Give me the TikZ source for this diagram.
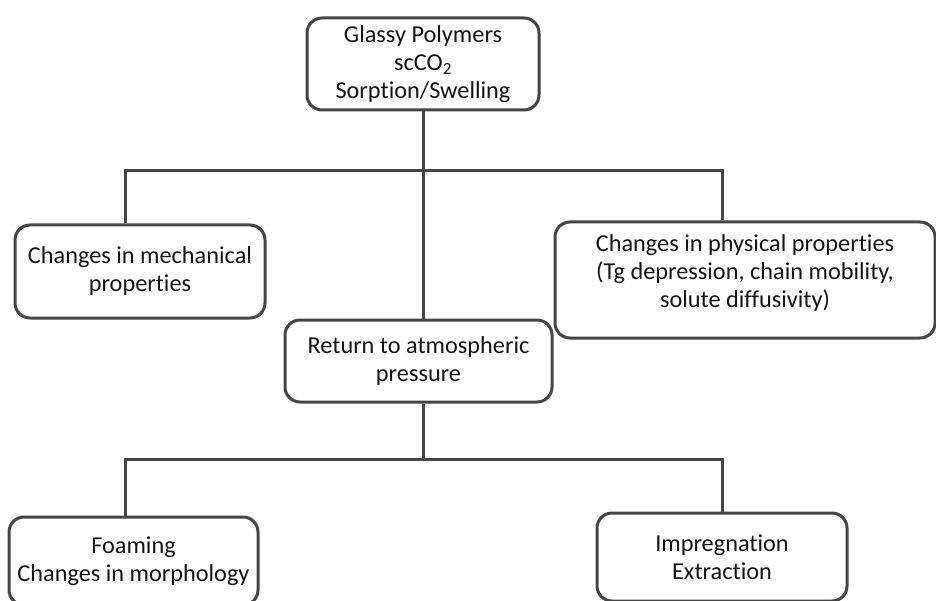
\documentclass[tikz,border=0pt]{standalone}
\usepackage{fontspec}
\setmainfont{Carlito}[Ligatures=NoCommon]
\definecolor{edgegray}{HTML}{454545}
\definecolor{txtgray}{HTML}{141414}

\begin{document}
\begin{tikzpicture}[
  x=1pt, y=-1pt,
  blk/.style={draw=edgegray, line width=3pt, rounded corners=15pt,
              align=center, inner sep=0pt, text=txtgray,
              font=\fontsize{24.3}{28}\selectfont},
  conn/.style={draw=edgegray, line width=3pt},
]
\useasboundingbox (0,0) rectangle (936,601);

% ---- Top: starting system ---------------------------------------------------
\node[blk, minimum width=232pt, minimum height=92pt] (glassy) at (423, 64)
  {Glassy Polymers\\scCO\textsubscript{2}\\Sorption/Swelling};

% ---- Middle row --------------------------------------------------------------
\node[blk, minimum width=250pt, minimum height=93pt] (mech) at (140, 271.5)
  {Changes in mechanical\\properties};

\node[blk, minimum width=380pt, minimum height=116pt, text depth=18pt] (phys)
  at (745, 280)
  {Changes in physical properties\\(Tg depression, chain mobility,\\solute diffusivity)};

\node[blk, minimum width=267pt, minimum height=82pt] (ret) at (418.5, 361)
  {Return to atmospheric\\pressure};

% ---- Bottom row --------------------------------------------------------------
\node[blk, minimum width=249pt, minimum height=88pt] (foam) at (133.5, 561)
  {Foaming\\Changes in morphology};

\node[blk, minimum width=250pt, minimum height=88pt] (impreg) at (722, 557)
  {Impregnation\\Extraction};

% ---- Connectors --------------------------------------------------------------
\coordinate (tl) at (125, 171);
\coordinate (tr) at (722, 171);
\coordinate (bm) at (423, 459);
\coordinate (bl) at (125, 459);
\coordinate (br) at (722, 459);

\draw[conn] (glassy.south) -- (ret.north -| glassy.south);
\draw[conn] (mech.north -| tl) -- (tl) -- (tr) -- (phys.north -| tr);
\draw[conn] (ret.south -| bm) -- (bm);
\draw[conn] (foam.north -| bl) -- (bl) -- (br) -- (impreg.north -| br);

\end{tikzpicture}
\end{document}
